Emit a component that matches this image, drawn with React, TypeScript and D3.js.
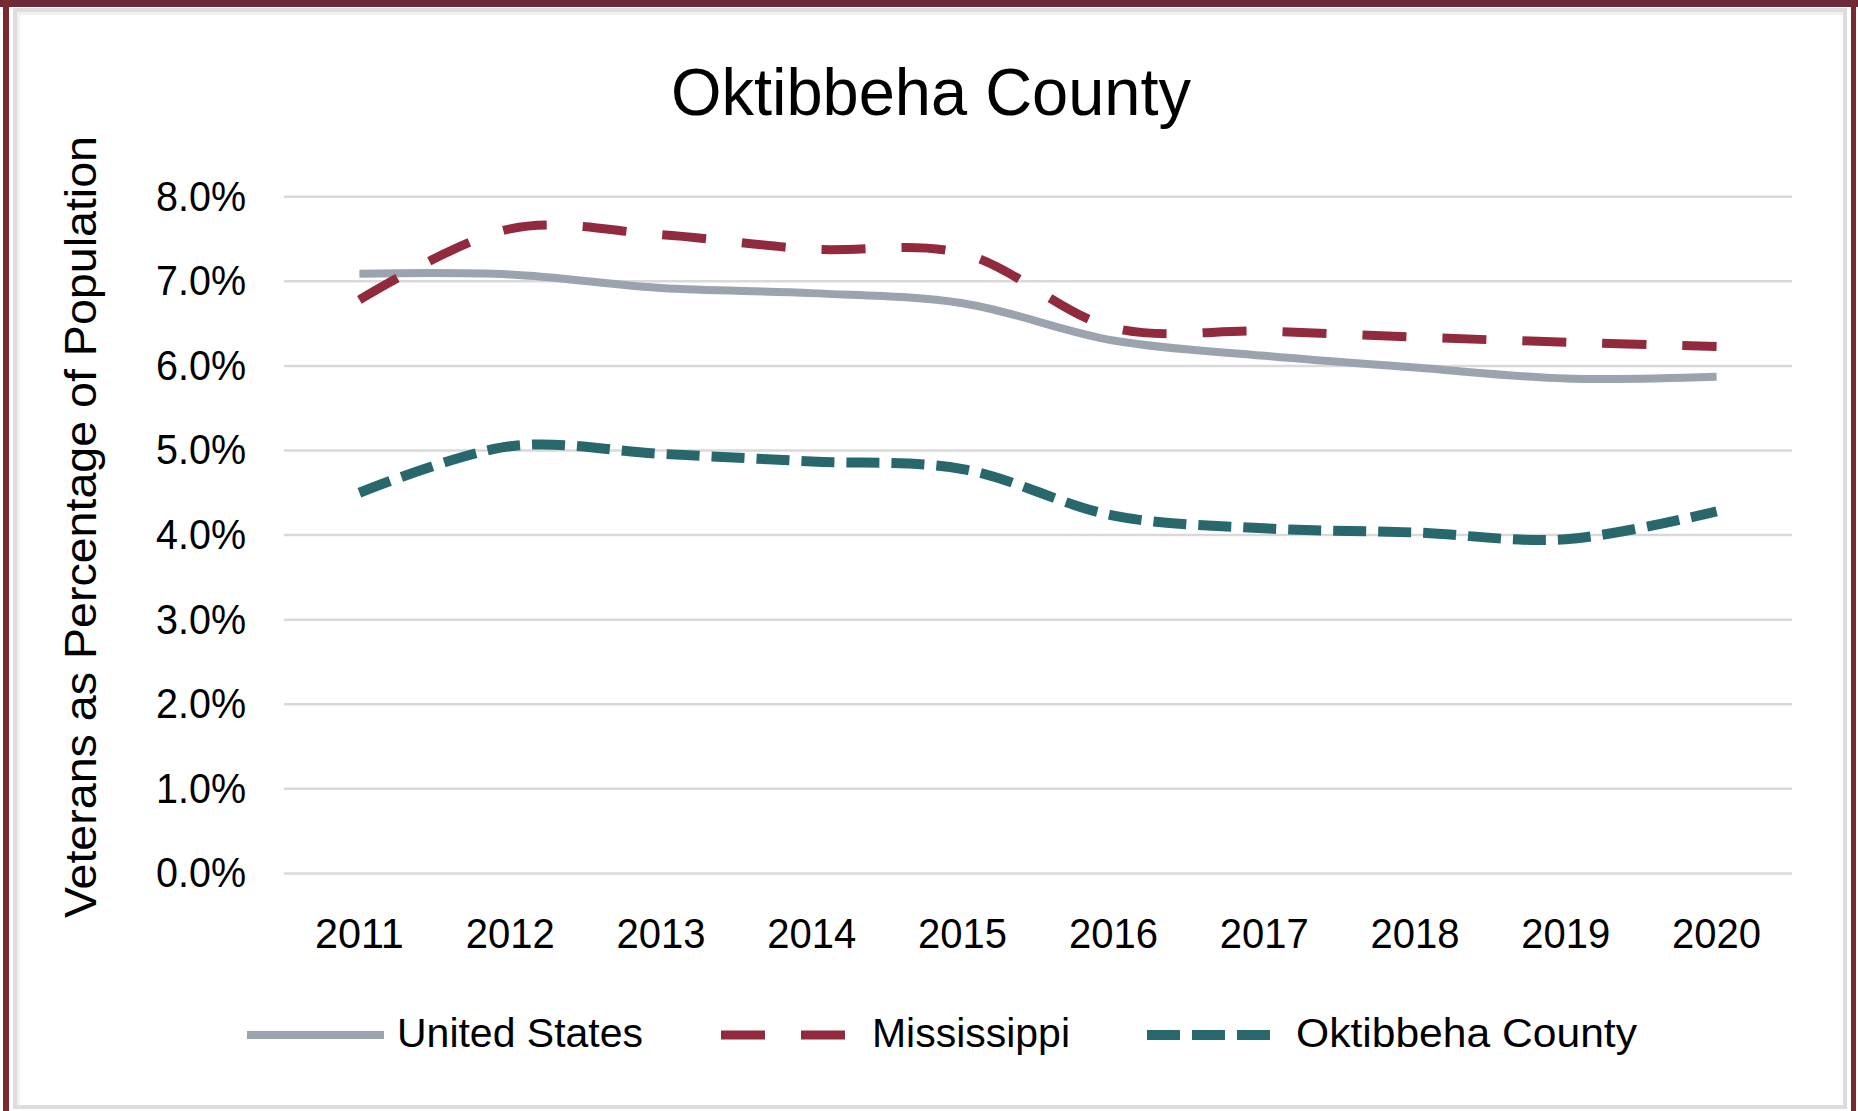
import React from "react";
import * as d3 from "d3";

const years = ["2011", "2012", "2013", "2014", "2015", "2016", "2017", "2018", "2019", "2020"];
const unitedStates = [7.09, 7.08, 6.92, 6.86, 6.74, 6.3, 6.12, 5.98, 5.85, 5.87];
const mississippi = [6.78, 7.62, 7.55, 7.38, 7.33, 6.45, 6.41, 6.34, 6.28, 6.23];
const oktibbeha = [4.5, 5.05, 4.96, 4.87, 4.78, 4.23, 4.08, 4.03, 3.95, 4.28];
const yTicks = [0, 1, 2, 3, 4, 5, 6, 7, 8];
const seriesNames = ["United States", "Mississippi", "Oktibbeha County"];

const W = 1858;
const H = 1111;
const FONT = "'Liberation Sans', Arial, sans-serif";

const series = [
  { name: seriesNames[0], values: unitedStates, color: "#9BA4AE", width: 8, dash: "none", legendX: 247, legendW: 137, textX: 397, textW: 246 },
  { name: seriesNames[1], values: mississippi, color: "#922A3E", width: 9, dash: "44,36", legendX: 721, legendW: 125, textX: 872, textW: 198 },
  { name: seriesNames[2], values: oktibbeha, color: "#28686C", width: 10, dash: "33,12", legendX: 1147, legendW: 123, textX: 1296, textW: 341 },
];

export default function App() {
  const x = d3.scalePoint<string>().domain(years).range([284, 1792]).padding(0.5);
  const y = d3.scaleLinear().domain([0, 8]).range([873.4, 196.7]);
  const line = d3
    .line<number>()
    .x((_, i) => x(years[i]) as number)
    .y((d) => y(d))
    .curve(d3.curveCatmullRom.alpha(0.5));

  return (
    <div style={{ position: "fixed", left: 0, top: 0, width: W, height: H, background: "#fff" }}>
      <svg width={W} height={H} viewBox={`0 0 ${W} ${H}`} style={{ display: "block" }}>
        <rect x={0} y={0} width={W} height={H} fill="#ffffff" />
        {/* frame */}
        <rect x={0} y={0} width={W} height={7} fill="#6E2A38" />
        <rect x={3} y={0} width={6} height={H} fill="#7A2A2C" />
        <rect x={1851} y={0} width={5} height={H} fill="#7A2A2C" />
        <rect x={13} y={8} width={1834} height={4} fill="#dddddd" />
        <rect x={13} y={12} width={1830} height={3} fill="#f0f0f0" />
        <rect x={13} y={8} width={4} height={1101} fill="#dddddd" />
        <rect x={17} y={12} width={3} height={1093} fill="#f2f2f2" />
        <rect x={1843} y={8} width={4} height={1101} fill="#dddddd" />
        <rect x={13} y={1105} width={1834} height={4} fill="#dddddd" />

        {/* title */}
        <text x={931} y={115} textAnchor="middle" fontFamily={FONT} fontSize={66} fill="#000" textLength={520} lengthAdjust="spacingAndGlyphs">
          Oktibbeha County
        </text>

        {/* gridlines */}
        {yTicks.map((t) => (
          <line key={t} x1={284} x2={1792} y1={y(t)} y2={y(t)} stroke="#d9d9d9" strokeWidth={2.5} />
        ))}
        {/* y tick labels */}
        {yTicks.map((t) => (
          <text key={"l" + t} x={246} y={y(t) + 14} textAnchor="end" fontFamily={FONT} fontSize={43} fill="#000" textLength={90} lengthAdjust="spacingAndGlyphs">
            {d3.format(".1f")(t) + "%"}
          </text>
        ))}
        {/* x labels */}
        {years.map((yr) => (
          <text key={yr} x={x(yr)} y={948} textAnchor="middle" fontFamily={FONT} fontSize={42} fill="#000" textLength={89} lengthAdjust="spacingAndGlyphs">
            {yr}
          </text>
        ))}
        {/* y axis title */}
        <text transform="translate(96,527) rotate(-90)" textAnchor="middle" fontFamily={FONT} fontSize={44} fill="#000" textLength={782} lengthAdjust="spacingAndGlyphs">
          Veterans as Percentage of Population
        </text>

        {/* lines */}
        {series.map((s) => (
          <path key={s.name} d={line(s.values) || ""} fill="none" stroke={s.color} strokeWidth={s.width} strokeDasharray={s.dash} strokeLinecap="butt" strokeLinejoin="round" />
        ))}

        {/* legend */}
        {series.map((s) => (
          <g key={"lg" + s.name}>
            <line x1={s.legendX} x2={s.legendX + s.legendW} y1={1035} y2={1035} stroke={s.color} strokeWidth={s.width} strokeDasharray={s.dash} />
            <text x={s.textX} y={1047} fontFamily={FONT} fontSize={41} fill="#000" textLength={s.textW} lengthAdjust="spacingAndGlyphs">
              {s.name}
            </text>
          </g>
        ))}
      </svg>
    </div>
  );
}
